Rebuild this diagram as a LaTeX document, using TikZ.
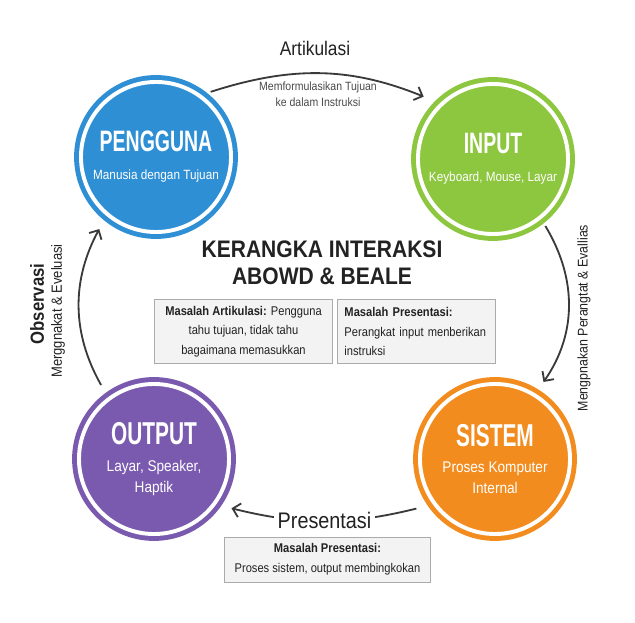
\documentclass[tikz,border=0pt]{standalone}
\usepackage{fontspec}
\setmainfont{Liberation Sans}[FakeStretch=0.88]
\newfontfamily\headfont{Liberation Sans}[FakeStretch=0.66]
\usetikzlibrary{arrows.meta, positioning, shadows}

\definecolor{pengblue}{HTML}{2F8FD5}
\definecolor{inpgreen}{HTML}{8DC63F}
\definecolor{outpurple}{HTML}{7A5AAE}
\definecolor{sisorange}{HTML}{F28C1E}
\definecolor{textdark}{HTML}{222222}
\definecolor{subgray}{HTML}{4A4A4A}
\definecolor{arrowgray}{HTML}{3A3A3A}
\definecolor{notefill}{HTML}{F3F3F3}
\definecolor{notegray}{HTML}{ABABAB}

\newcommand{\hubtitle}[2][21]{{\headfont\bfseries\fontsize{#1}{26}\selectfont #2}}

\begin{document}
\begin{tikzpicture}[
    x=0.025cm, y=0.025cm,
    >={Straight Barb[length=5pt,width=10pt]},
    hub/.style={circle, fill=#1, draw=#1, double=white, double distance=2.8pt,
        line width=3.5pt, minimum size=3.75cm, inner sep=0pt, outer sep=0.25cm,
        text=white, align=center, font=\fontsize{9.5}{15}\selectfont},
    note/.style={rectangle, draw=notegray, fill=notefill, line width=0.7pt,
        inner sep=0pt, text=textdark, font=\fontsize{9}{14}\selectfont,
        drop shadow={shadow xshift=1pt, shadow yshift=-1pt, opacity=0.2}},
    flow/.style={->, draw=arrowgray, line width=1.3pt},
    every node/.style={text=textdark}
]
\useasboundingbox[fill=white] (0,0) rectangle (635,622);

% the four stages
\node[hub=pengblue] (peng) at (156,465) {\hubtitle{PENGGUNA}\\[5pt] Manusia dengan Tujuan};
\node[hub=inpgreen] (inp) at (493,463) {\hubtitle{INPUT}\\[5pt] Keyboard, Mouse, Layar};
\node[hub=outpurple, font=\fontsize{11}{15}\selectfont] (outp) at (154,163)
    {\hubtitle[22.5]{OUTPUT}\\[4pt] Layar, Speaker,\\ Haptik};
\node[hub=sisorange, font=\fontsize{11}{15}\selectfont] (sis) at (495,163)
    {\hubtitle[22.5]{SISTEM}\\[4pt] Proses Komputer\\ Internal};

% title and notes
\node[font=\fontsize{17}{19}\selectfont\bfseries, align=center] (title) at (322,359)
    {KERANGKA INTERAKSI\\ABOWD \& BEALE};
\node[note, minimum width=4.425cm, minimum height=1.575cm, align=center] (artnote) at (243.5,290.5)
    {\textbf{Masalah Artikulasi:} Pengguna\\tahu tujuan, tidak tahu\\bagaimana memasukkan};
\node[note, minimum width=3.925cm, minimum height=1.575cm, align=left, text width=3.6cm] (inpnote) at (416.5,290.5)
    {\textbf{Masalah Presentasi:}\\Perangkat input menberikan\\instruksi};
\node[note, minimum width=5.125cm, minimum height=1.125cm, align=center] (presnote) at (327.5,62.5)
    {\textbf{Masalah Presentasi:}\\Proses sistem, output membingkokan};

% cycle
\draw[flow, bend left=20, shorten >=0.22cm] (peng.50) to (inp.136);
\node[font=\fontsize{14}{16}\selectfont] (artlbl) at (315,574) {Artikulasi};
\node[font=\fontsize{8.5}{11.5}\selectfont, text=subgray, align=center] (artsub) at (318,528)
    {Memformulasikan Tujuan\\ke dalam Instruksi};

\draw[flow, bend left=33, shorten >=0.15cm] (inp.-52) to (sis.58);
\node[rotate=90, font=\fontsize{10}{12}\selectfont] (inplbl) at (584,304) {Mengpnakan Perangtat \& Evallias};

\draw[flow, bend left=14, shorten <=0.21cm, shorten >=0.18cm] (sis.214) to
    node[fill=white, inner xsep=3pt, font=\fontsize{16}{18}\selectfont] (preslbl) {Presentasi} (outp.-34);

\draw[flow, bend left=29, shorten <=0.15cm, shorten >=0.17cm] (outp.126) to (peng.231);
\node[rotate=90, font=\fontsize{13.5}{16}\selectfont\bfseries] (obslbl) at (37,318) {Observasi};
\node[rotate=90, font=\fontsize{10.5}{12}\selectfont] (obssub) at (58,311) {Merggnakat \& Eveluasi};
\end{tikzpicture}
\end{document}
